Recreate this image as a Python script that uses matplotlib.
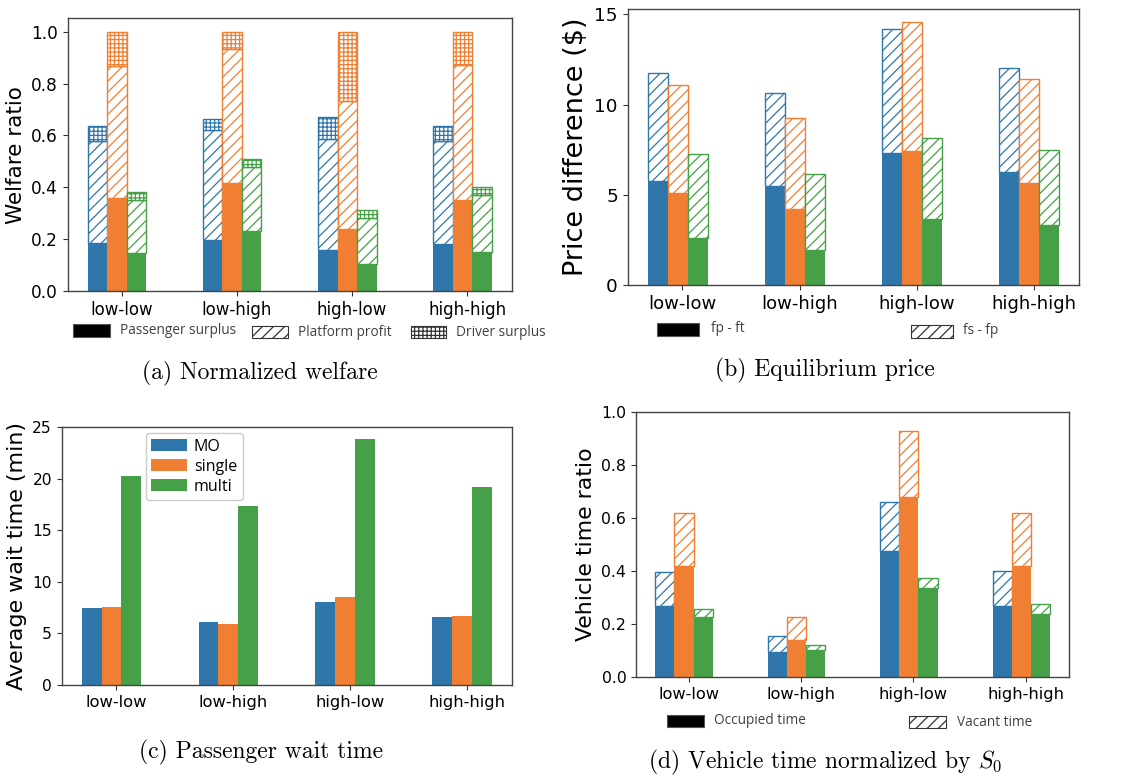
import numpy as np
import matplotlib
matplotlib.use("Agg")
import matplotlib.pyplot as plt
from matplotlib.patches import Rectangle

plt.rcParams['font.family'] = ['DejaVu Sans']
plt.rcParams['mathtext.fontset'] = 'cm'
plt.rcParams['hatch.linewidth'] = 0.9

# ---------------- data ----------------
categories = ["low-low", "low-high", "high-low", "high-high"]
series = ["MO", "single", "multi"]

# (a) normalized welfare (segment heights)
passenger_surplus = {"MO": [0.184, 0.198, 0.158, 0.180],
                     "single": [0.357, 0.418, 0.239, 0.351],
                     "multi": [0.145, 0.230, 0.103, 0.149]}
platform_profit = {"MO": [0.394, 0.425, 0.428, 0.398],
                   "single": [0.511, 0.516, 0.494, 0.519],
                   "multi": [0.205, 0.249, 0.180, 0.220]}
driver_surplus = {"MO": [0.057, 0.040, 0.085, 0.057],
                  "single": [0.132, 0.066, 0.267, 0.130],
                  "multi": [0.030, 0.029, 0.028, 0.032]}

# (b) equilibrium price
fp_minus_ft = {"MO": [5.77, 5.51, 7.34, 6.25],
               "single": [5.12, 4.21, 7.45, 5.67],
               "multi": [2.62, 1.94, 3.68, 3.31]}
fs_minus_fp = {"MO": [5.97, 5.16, 6.87, 5.78],
               "single": [5.99, 5.07, 7.15, 5.73],
               "multi": [4.66, 4.20, 4.45, 4.19]}

# (c) passenger wait time (min)
wait_time = {"MO": [7.43, 6.07, 8.04, 6.62],
             "single": [7.56, 5.91, 8.49, 6.69],
             "multi": [20.28, 17.31, 23.84, 19.19]}

# (d) vehicle time normalized by S0
occupied_time = {"MO": [0.268, 0.095, 0.476, 0.268],
                 "single": [0.419, 0.142, 0.678, 0.419],
                 "multi": [0.227, 0.104, 0.338, 0.240]}
vacant_time = {"MO": [0.127, 0.059, 0.183, 0.131],
               "single": [0.198, 0.086, 0.248, 0.201],
               "multi": [0.029, 0.016, 0.035, 0.035]}

colors = {"MO": "#2f76aa", "single": "#f17f33", "multi": "#45a047"}

# ---------------- figure ----------------
W, H = 1134, 777
fig = plt.figure(figsize=(W / 100, H / 100), dpi=100)

def px_axes(l, t, r, b):
    return fig.add_axes([l / W, 1 - b / H, (r - l) / W, (b - t) / H])

axA = px_axes(67.7, 18.3, 511.7, 291)
axB = px_axes(627.7, 9, 1079.3, 285)
axC = px_axes(61.7, 427, 511.7, 685)
axD = px_axes(636, 411.7, 1069.3, 677.3)

x = np.arange(len(categories))
bw = 0.17
offsets = {"MO": -bw, "single": 0.0, "multi": bw}

def style_axes(ax, ylim, yfs, xfs, ylabel, ylfs):
    ax.set_xlim(-0.427, 3.427)
    ax.set_ylim(*ylim)
    ax.set_xticks(x + 0.04)
    ax.set_xticklabels(categories, fontsize=xfs)
    ax.tick_params(axis='y', labelsize=yfs, color='#333333', length=3.5, width=0.8)
    ax.tick_params(axis='x', color='#333333', length=3.5, width=0.8)
    for s in ax.spines.values():
        s.set_color('#444444')
        s.set_linewidth(1.0)
    ax.set_ylabel(ylabel, fontsize=ylfs)

# (a)
for s in series:
    p = np.array(passenger_surplus[s]); q = np.array(platform_profit[s]); d = np.array(driver_surplus[s])
    axA.bar(x + offsets[s], p, bw, color=colors[s], linewidth=0)
    axA.bar(x + offsets[s], q, bw, bottom=p, facecolor='white', edgecolor=colors[s], hatch='///', linewidth=1)
    axA.bar(x + offsets[s], d, bw, bottom=p + q, facecolor='white', edgecolor=colors[s], hatch='++++', linewidth=1)
style_axes(axA, (0, 1.052), 12.2, 12, "Welfare ratio", 15.5)
axA.set_yticks([0, 0.2, 0.4, 0.6, 0.8, 1.0])

# (b)
for s in series:
    a = np.array(fp_minus_ft[s]); b = np.array(fs_minus_fp[s])
    axB.bar(x + offsets[s], a, bw, color=colors[s], linewidth=0)
    axB.bar(x + offsets[s], b, bw, bottom=a, facecolor='white', edgecolor=colors[s], hatch='///', linewidth=1)
style_axes(axB, (0, 15.3), 13.2, 13, "Price difference ($)", 19.5)
axB.set_yticks([0, 5, 10, 15])

# (c)
for s in series:
    axC.bar(x + offsets[s], wait_time[s], bw, color=colors[s], linewidth=0, label=s)
style_axes(axC, (0, 25), 11.2, 11.8, "Average wait time (min)", 15.9)
axC.set_yticks([0, 5, 10, 15, 20, 25])
axC.legend(loc='upper left', bbox_to_anchor=(0.187, 0.977), borderaxespad=0,
           fontsize=11.5, handlelength=2.2, handleheight=0.85, labelspacing=0.25,
           handletextpad=0.45, borderpad=0.35, framealpha=1, edgecolor='#cccccc',
           prop={'family': ['Open Sans', 'DejaVu Sans'], 'size': 11.5})

# ---------------- custom legends below panels ----------------
renderer = fig.canvas.get_renderer()
_probe = fig.text(0, 0, "Passenger surplus", fontsize=10, family=['Open Sans', 'DejaVu Sans'])
_w = _probe.get_window_extent(renderer).width
_probe.remove()
leg_fs = 10 * 116.0 / _w

def legend_item(x0, yc, w, h, kind, label, tx):
    if kind == 'solid':
        r = Rectangle((x0 / W, 1 - (yc + h / 2) / H), w / W, h / H, transform=fig.transFigure,
                      facecolor='black', edgecolor='#555555', linewidth=0.8)
    else:
        r = Rectangle((x0 / W, 1 - (yc + h / 2) / H), w / W, h / H, transform=fig.transFigure,
                      facecolor='white', edgecolor='#333333', hatch=kind, linewidth=0.8)
    fig.patches.append(r)
    fig.text(tx / W, 1 - yc / H, label, fontsize=leg_fs, color='#404040',
             family=['Open Sans', 'DejaVu Sans'], va='center', ha='left')

# (d)
for s in series:
    o = np.array(occupied_time[s]); v = np.array(vacant_time[s])
    axD.bar(x + offsets[s], o, bw, color=colors[s], linewidth=0)
    axD.bar(x + offsets[s], v, bw, bottom=o, facecolor='white', edgecolor=colors[s], hatch='///', linewidth=1)
style_axes(axD, (0, 1.0), 11.3, 11.7, "Vehicle time ratio", 15.8)
axD.set_yticks([0, 0.2, 0.4, 0.6, 0.8, 1.0])

legend_item(73, 330, 37, 13, 'solid', "Passenger surplus", 120)
legend_item(252, 332, 36, 12, '///', "Platform profit", 298)
legend_item(411, 332, 35, 12, '++++', "Driver surplus", 456)

legend_item(657, 329, 42, 13, 'solid', "fp - ft", 711)
legend_item(911, 331, 42, 13, '///', "fs - fp", 963)

legend_item(667, 721, 37, 12, 'solid', "Occupied time", 714)
legend_item(909, 722, 37, 12, '///', "Vacant time", 957)

# ---------------- captions ----------------
cap_kw = dict(fontsize=17, family='cmr10', ha='center', va='center')
fig.text(260 / W, 1 - 373 / H, "(a) Normalized welfare", **cap_kw)
fig.text(825 / W, 1 - 370 / H, "(b) Equilibrium price", **cap_kw)
fig.text(261 / W, 1 - 752 / H, "(c) Passenger wait time", **cap_kw)
fig.text(825 / W, 1 - 762 / H, r"(d) Vehicle time normalized by $S_0$", **cap_kw)

fig.savefig("out.png", dpi=100)
